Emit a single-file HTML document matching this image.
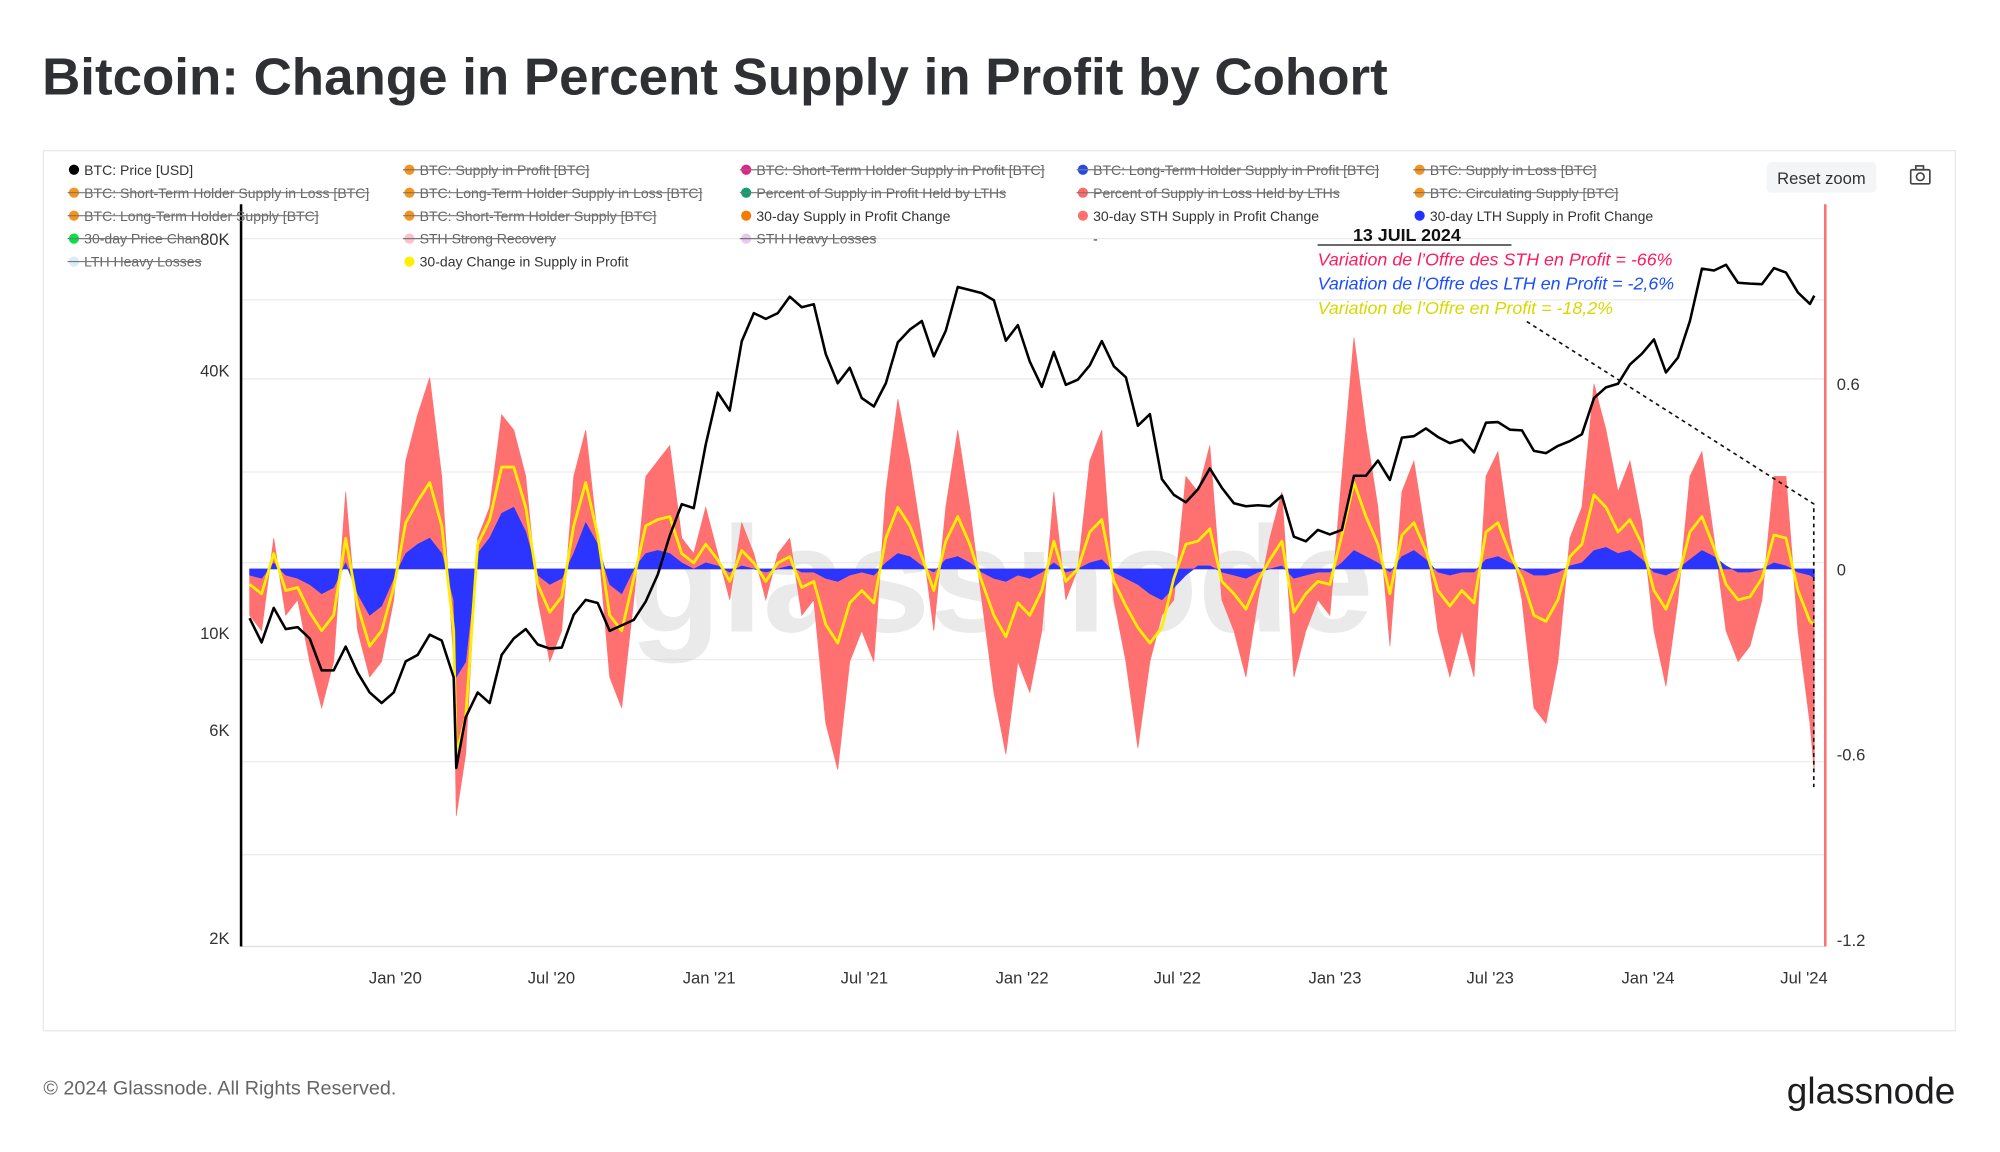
<!DOCTYPE html>
<html><head><meta charset="utf-8"><style>
html,body{margin:0;padding:0;background:#fff}
svg{display:block}
text{font-family:"Liberation Sans",sans-serif}
</style></head><body>
<svg id="chart" width="2000" height="1152" viewBox="0 0 1568 903" xmlns="http://www.w3.org/2000/svg">
<rect x="0" y="0" width="1568" height="903" fill="#fff"/>
<text x="33" y="74" font-size="41" fill="#2f3033" font-weight="bold" textLength="1055" lengthAdjust="spacingAndGlyphs">Bitcoin: Change in Percent Supply in Profit by Cohort</text>
<rect x="34" y="118" width="1499" height="690" fill="none" stroke="#e8e8e8" stroke-width="1"/>
<g id="grid"></g>
<text x="785" y="495" font-size="118" fill="#d0d0d0" fill-opacity="0.45" text-anchor="middle" font-weight="bold">glassnode</text>
<g id="series"></g>
<line x1="189" y1="160" x2="189" y2="742" stroke="#000" stroke-width="2"/>
<line x1="1431" y1="160" x2="1431" y2="742" stroke="#ff7070" stroke-width="2"/>
<g id="axes"></g>
<g id="legend"></g>
<g>
<rect x="1385" y="127" width="86" height="24" rx="4" fill="#f4f5f7"/>
<text x="1428" y="144" font-size="13" fill="#333" text-anchor="middle">Reset zoom</text>
</g>
<g fill="none" stroke="#444" stroke-width="1.3">
<rect x="1498" y="133" width="15" height="11" rx="1"/><rect x="1502" y="130" width="6" height="3"/><circle cx="1505.5" cy="138.5" r="3"/>
</g>
<g>
<text x="1103" y="189" font-size="14" font-weight="bold" fill="#111" text-anchor="middle">13 JUIL 2024</text>
<line x1="1033" y1="192" x2="1185" y2="192" stroke="#111" stroke-width="1"/>
<text x="1033" y="208" font-size="14" font-style="italic" fill="#ff1a5e">Variation de l’Offre des STH en Profit = -66%</text>
<text x="1033" y="227" font-size="14" font-style="italic" fill="#1a4dff">Variation de l’Offre des LTH en Profit = -2,6%</text>
<text x="1033" y="246" font-size="14" font-style="italic" fill="#d8d800">Variation de l’Offre en Profit = -18,2%</text>
<polyline points="1197,252 1422,395 1422,617" fill="none" stroke="#111" stroke-width="1.3" stroke-dasharray="3,3"/>
</g>
<text x="34" y="858" font-size="15.5" fill="#666">© 2024 Glassnode. All Rights Reserved.</text>
<text x="1533" y="865" font-size="29" fill="#1d1d1f" text-anchor="end">glassnode</text>
</svg>
<script>
const dates=["2019-07-15","2019-07-29","2019-08-12","2019-08-26","2019-09-09","2019-09-23","2019-10-07","2019-10-21","2019-11-04","2019-11-18","2019-12-02","2019-12-16","2019-12-30",
"2020-01-13","2020-01-27","2020-02-10","2020-02-24","2020-03-09","2020-03-12","2020-03-23","2020-04-06","2020-04-20","2020-05-04","2020-05-18","2020-06-01","2020-06-15","2020-06-29","2020-07-13","2020-07-27","2020-08-10","2020-08-24","2020-09-07","2020-09-21","2020-10-05","2020-10-19","2020-11-02","2020-11-16","2020-11-30","2020-12-14","2020-12-28",
"2021-01-11","2021-01-25","2021-02-08","2021-02-22","2021-03-08","2021-03-22","2021-04-05","2021-04-19","2021-05-03","2021-05-17","2021-05-31","2021-06-14","2021-06-28","2021-07-12","2021-07-26","2021-08-09","2021-08-23","2021-09-06","2021-09-20","2021-10-04","2021-10-18","2021-11-01","2021-11-15","2021-11-29","2021-12-13","2021-12-27",
"2022-01-10","2022-01-24","2022-02-07","2022-02-21","2022-03-07","2022-03-21","2022-04-04","2022-04-18","2022-05-02","2022-05-16","2022-05-30","2022-06-13","2022-06-27","2022-07-11","2022-07-25","2022-08-08","2022-08-22","2022-09-05","2022-09-19","2022-10-03","2022-10-17","2022-10-31","2022-11-14","2022-11-28","2022-12-12","2022-12-26",
"2023-01-09","2023-01-23","2023-02-06","2023-02-20","2023-03-06","2023-03-20","2023-04-03","2023-04-17","2023-05-01","2023-05-15","2023-05-29","2023-06-12","2023-06-26","2023-07-10","2023-07-24","2023-08-07","2023-08-21","2023-09-04","2023-09-18","2023-10-02","2023-10-16","2023-10-30","2023-11-13","2023-11-27","2023-12-11","2023-12-25",
"2024-01-08","2024-01-22","2024-02-05","2024-02-19","2024-03-04","2024-03-18","2024-04-01","2024-04-15","2024-04-29","2024-05-13","2024-05-27","2024-06-10","2024-06-24","2024-07-08","2024-07-13"];
const price=[10800,9500,11400,10200,10300,9700,8200,8200,9300,8100,7300,6900,7300,
8600,8900,9900,9600,7900,4900,6400,7300,6900,8900,9700,10200,9400,9200,9250,11000,11900,11700,10100,10400,10700,11800,13600,16700,19700,19300,27000,
35500,32300,46500,54000,52400,54000,58900,55700,56600,43500,37300,40500,34500,33000,37300,46300,49500,51800,43000,49200,62000,61000,60000,57800,46700,50700,
41800,36600,44000,37000,38000,41000,46600,40800,38500,29800,31700,22500,20700,19900,21300,23800,21500,19800,19500,19600,19500,20600,16600,16200,17200,16800,
17200,22900,22900,24800,22400,28000,28200,29400,28100,27200,27700,25900,30300,30400,29200,29100,26100,25800,26800,27500,28500,34500,36500,37200,41200,43600,
47000,39500,42700,51800,68300,67600,69700,63400,63100,62900,68500,66900,60200,56700,59200];
const sthChange=[-0.15,-0.2,0.1,-0.15,-0.1,-0.3,-0.45,-0.3,0.25,-0.2,-0.35,-0.3,-0.1,
0.35,0.5,0.62,0.3,-0.3,-0.8,-0.6,0.1,0.2,0.5,0.45,0.3,-0.1,-0.3,-0.2,0.3,0.45,0.1,-0.35,-0.45,-0.1,0.3,0.35,0.4,0.1,0.05,0.2,
0.05,-0.1,0.15,0.05,-0.1,0.05,0.1,-0.15,-0.1,-0.5,-0.65,-0.3,-0.2,-0.3,0.25,0.55,0.35,0.1,-0.2,0.2,0.45,0.2,-0.1,-0.4,-0.6,-0.3,
-0.4,-0.2,0.25,-0.1,0.0,0.35,0.45,-0.1,-0.3,-0.58,-0.3,-0.15,-0.1,0.3,0.25,0.4,-0.1,-0.2,-0.35,-0.1,0.1,0.25,-0.35,-0.2,-0.1,-0.15,
0.3,0.75,0.45,0.2,-0.25,0.25,0.35,0.1,-0.2,-0.35,-0.2,-0.35,0.3,0.38,0.1,-0.1,-0.45,-0.5,-0.3,0.1,0.2,0.6,0.45,0.25,0.35,0.15,
-0.2,-0.38,-0.1,0.3,0.38,0.1,-0.2,-0.3,-0.25,-0.1,0.3,0.3,-0.2,-0.5,-0.66];
const lthChange=[-0.02,-0.03,0.02,-0.02,-0.03,-0.05,-0.08,-0.06,0.02,-0.08,-0.15,-0.12,-0.03,
0.05,0.08,0.1,0.05,-0.1,-0.35,-0.3,0.05,0.1,0.18,0.2,0.12,-0.02,-0.05,-0.03,0.05,0.15,0.08,-0.05,-0.08,0.0,0.05,0.06,0.05,0.02,0.0,0.02,
0.01,-0.01,0.01,0.0,-0.01,0.0,0.01,-0.01,-0.01,-0.03,-0.04,-0.02,-0.01,-0.02,0.02,0.05,0.04,0.01,-0.01,0.03,0.04,0.02,-0.01,-0.03,-0.04,-0.02,
-0.03,-0.01,0.02,-0.01,0.0,0.02,0.03,-0.01,-0.03,-0.05,-0.08,-0.1,-0.06,-0.02,0.01,0.01,-0.01,-0.02,-0.03,-0.01,0.0,0.01,-0.03,-0.02,-0.01,-0.01,
0.02,0.06,0.04,0.02,-0.01,0.04,0.06,0.03,-0.01,-0.02,-0.01,-0.01,0.03,0.04,0.02,0.0,-0.02,-0.02,-0.01,0.01,0.02,0.06,0.07,0.05,0.06,0.03,
-0.01,-0.02,0.0,0.03,0.06,0.04,0.01,-0.01,-0.01,0.0,0.02,0.01,-0.01,-0.02,-0.03];
const totalChange=[-0.05,-0.08,0.05,-0.07,-0.06,-0.14,-0.2,-0.15,0.1,-0.12,-0.25,-0.2,-0.06,
0.15,0.22,0.28,0.14,-0.2,-0.6,-0.48,0.08,0.16,0.33,0.33,0.2,-0.05,-0.14,-0.09,0.14,0.28,0.11,-0.15,-0.2,-0.03,0.14,0.16,0.17,0.05,0.02,0.08,
0.03,-0.04,0.06,0.02,-0.04,0.02,0.04,-0.06,-0.04,-0.18,-0.24,-0.11,-0.07,-0.11,0.1,0.2,0.14,0.04,-0.07,0.09,0.17,0.08,-0.04,-0.15,-0.22,-0.11,
-0.15,-0.07,0.09,-0.04,0.0,0.12,0.16,-0.04,-0.12,-0.19,-0.24,-0.19,-0.03,0.08,0.09,0.13,-0.04,-0.08,-0.13,-0.04,0.03,0.09,-0.14,-0.08,-0.04,-0.05,
0.11,0.28,0.17,0.08,-0.08,0.11,0.15,0.06,-0.07,-0.12,-0.07,-0.11,0.12,0.15,0.05,-0.03,-0.15,-0.17,-0.1,0.04,0.08,0.24,0.2,0.12,0.16,0.08,
-0.07,-0.13,-0.03,0.12,0.17,0.07,-0.05,-0.1,-0.09,-0.03,0.11,0.1,-0.07,-0.17,-0.18];
const xTickLabels=["Jan '20","Jul '20","Jan '21","Jul '21","Jan '22","Jul '22","Jan '23","Jul '23","Jan '24","Jul '24"];
const xTickDates=["2020-01-01","2020-07-01","2021-01-01","2021-07-01","2022-01-01","2022-07-01","2023-01-01","2023-07-01","2024-01-01","2024-07-01"];
const priceTicks=[80000,40000,10000,6000,2000];
const priceTickLabels=["80K","40K","10K","6K","2K"];
const rightTicks=[0.6,0,-0.6,-1.2];
const rightTickLabels=["0.6","0","-0.6","-1.2"];

const NS="http://www.w3.org/2000/svg";
const T0=Date.UTC(2020,0,1);
function xScale(d){const t=Date.parse(d+"T00:00:00Z");return 310+(t-T0)/86400000/365.25*245.5;}
function yPrice(p){return 187+103*Math.log2(80000/p);}
function yRight(v){return 446-v*242;}
function el(tag,attrs,parent){const e=document.createElementNS(NS,tag);for(const k in attrs)e.setAttribute(k,attrs[k]);parent.appendChild(e);return e;}

const grid=document.getElementById('grid');
[187,235,297,370,441,517,597,670].forEach(y=>{
  const l=el('line',{x1:190,x2:1430,y1:y,y2:y,stroke:'#ececec','stroke-width':1},grid);
  
  
});
const base=el('line',{x1:190,x2:1430,y1:742,y2:742,stroke:'#ddd','stroke-width':1},grid);



const series=document.getElementById('series');
function areaPath(vals){
  let d="M"+xScale(dates[0]).toFixed(1)+","+yRight(0);
  vals.forEach((v,i)=>{d+=" L"+xScale(dates[i]).toFixed(1)+","+yRight(v).toFixed(1);});
  d+=" L"+xScale(dates[dates.length-1]).toFixed(1)+","+yRight(0)+" Z";return d;
}
function linePath(vals,fy){return vals.map((v,i)=>(i?"L":"M")+xScale(dates[i]).toFixed(1)+","+fy(v).toFixed(1)).join(" ");}
const sth=el('path',{d:areaPath(sthChange),fill:'#ff7070',stroke:'#ff7070','stroke-width':0.5},series);


const lth=el('path',{d:areaPath(lthChange),fill:'#2b35ff',stroke:'#2b35ff','stroke-width':0.5},series);


const tot=el('path',{d:linePath(totalChange,yRight),fill:'none',stroke:'#ffee00','stroke-width':2.2,'stroke-linejoin':'round'},series);


const pr=el('path',{d:linePath(price,yPrice),fill:'none',stroke:'#000','stroke-width':2,'stroke-linejoin':'round'},series);



const axes=document.getElementById('axes');
xTickLabels.forEach((lab,i)=>{
  const t=el('text',{x:xScale(xTickDates[i]),y:771,'font-size':13,fill:'#333','text-anchor':'middle'},axes);
  t.textContent=lab;
  
  
});
priceTicks.forEach((p,i)=>{
  const t=el('text',{x:180,y:yPrice(p)+5,'font-size':13,fill:'#333','text-anchor':'end'},axes);
  t.textContent=priceTickLabels[i];
  
  
});
rightTicks.forEach((v,i)=>{
  const t=el('text',{x:1440,y:yRight(v)+5,'font-size':13,fill:'#333'},axes);
  t.textContent=rightTickLabels[i];
  
  
});

const legendItems=[
 ["BTC: Price [USD]","#000",0],["BTC: Supply in Profit [BTC]","#f7931a",1],["BTC: Short-Term Holder Supply in Profit [BTC]","#e91e8c",1],["BTC: Long-Term Holder Supply in Profit [BTC]","#2449e8",1],["BTC: Supply in Loss [BTC]","#f7931a",1],
 ["BTC: Short-Term Holder Supply in Loss [BTC]","#f7931a",1],["BTC: Long-Term Holder Supply in Loss [BTC]","#f7931a",1],["Percent of Supply in Profit Held by LTHs","#0e9f6e",1],["Percent of Supply in Loss Held by LTHs","#ff6b6b",1],["BTC: Circulating Supply [BTC]","#f7931a",1],
 ["BTC: Long-Term Holder Supply [BTC]","#f7931a",1],["BTC: Short-Term Holder Supply [BTC]","#f7931a",1],["30-day Supply in Profit Change","#f47c00",0],["30-day STH Supply in Profit Change","#ff7070",0],["30-day LTH Supply in Profit Change","#2233ff",0],
 ["30-day Price Chan","#00e640",1],["STH Strong Recovery","#ffc0cb",1],["STH Heavy Losses","#e8c8f0",1],["-","#fff",0],null,
 ["LTH Heavy Losses","#d6ecf8",1],["30-day Change in Supply in Profit","#ffee00",0]
];
const cols=[55,318,582,846,1110];
const legend=document.getElementById('legend');
legendItems.forEach((it,i)=>{
  if(!it)return;
  const x=cols[i%5],y=133+Math.floor(i/5)*18;
  const g=el('g',{},legend);
  
  
  if(it[0]!=="-")el('circle',{cx:x+3,cy:y,r:4,fill:it[1]},g);
  const t=el('text',{x:x+11,y:y+4,'font-size':11,fill:it[2]?'#666':'#333'},g);
  t.textContent=it[0];
  if(it[2]){const w=t.getComputedTextLength();el('line',{x1:x-2,x2:x+11+w,y1:y,y2:y,stroke:'#777','stroke-width':0.9},g);}
});
</script>
</body></html>
